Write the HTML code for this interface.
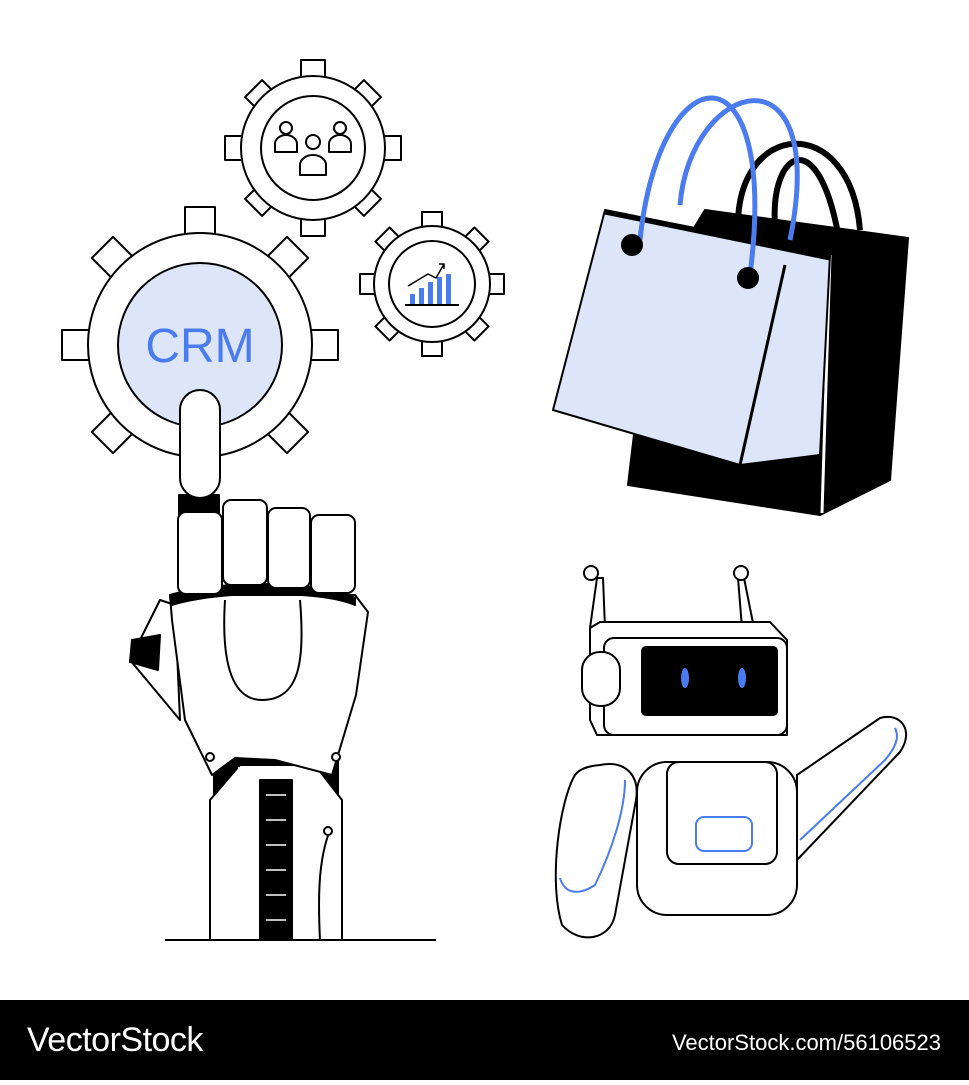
<!DOCTYPE html>
<html><head><style>
body{margin:0;width:969px;height:1080px;background:#fff;overflow:hidden;font-family:"Liberation Sans",sans-serif}
</style></head><body>
<svg width="969" height="1080" viewBox="0 0 969 1080" xmlns="http://www.w3.org/2000/svg" stroke="#000" stroke-width="2" stroke-linejoin="round">
<defs>
<g id="teeth8"><rect x="-15" y="-1" width="30" height="2"/></g>
</defs>
<!-- big gear -->
<g transform="translate(200,345)" fill="#fff">
<g><rect x="-15" y="-138" width="30" height="50"/><rect x="-15" y="88" width="30" height="50"/><rect x="-138" y="-15" width="50" height="30"/><rect x="88" y="-15" width="50" height="30"/>
<rect x="-15" y="-138" width="30" height="50" transform="rotate(45)"/><rect x="-15" y="-138" width="30" height="50" transform="rotate(-45)"/><rect x="-15" y="-138" width="30" height="50" transform="rotate(135)"/><rect x="-15" y="-138" width="30" height="50" transform="rotate(-135)"/></g>
<circle r="112"/><circle r="82" fill="#dde6f8"/>
<text x="0" y="17" text-anchor="middle" font-size="48" fill="#4a7cf0" stroke="none" font-family="Liberation Sans">CRM</text>
</g>
<!-- top gear -->
<g transform="translate(313,148)" fill="#fff">
<rect x="-12" y="-88" width="24" height="30"/><rect x="-12" y="58" width="24" height="30"/><rect x="-88" y="-12" width="30" height="24"/><rect x="58" y="-12" width="30" height="24"/>
<rect x="-12" y="-84" width="24" height="30" transform="rotate(45)"/><rect x="-12" y="-84" width="24" height="30" transform="rotate(-45)"/><rect x="-12" y="-84" width="24" height="30" transform="rotate(135)"/><rect x="-12" y="-84" width="24" height="30" transform="rotate(-135)"/>
<circle r="72"/><circle r="52"/>
<circle cx="-27" cy="-20" r="6"/><path d="M-38,4 v-8 a11,9 0 0 1 22,0 v8z"/>
<circle cx="27" cy="-20" r="6"/><path d="M16,4 v-8 a11,9 0 0 1 22,0 v8z"/>
<circle cx="0" cy="-6" r="7"/><path d="M-13,27 v-10 a13,10 0 0 1 26,0 v10z"/>
</g>
<!-- small gear -->
<g transform="translate(432,284)" fill="#fff">
<rect x="-10" y="-72" width="20" height="24"/><rect x="-10" y="48" width="20" height="24"/><rect x="-72" y="-10" width="24" height="20"/><rect x="48" y="-10" width="24" height="20"/>
<rect x="-10" y="-70" width="20" height="24" transform="rotate(45)"/><rect x="-10" y="-70" width="20" height="24" transform="rotate(-45)"/><rect x="-10" y="-70" width="20" height="24" transform="rotate(135)"/><rect x="-10" y="-70" width="20" height="24" transform="rotate(-135)"/>
<circle r="58"/><circle r="43"/>
<line x1="-27" y1="21" x2="27" y2="21"/>
<g fill="#4a7cf0" stroke="none"><rect x="-22" y="10" width="5" height="10"/><rect x="-13" y="4" width="5" height="16"/><rect x="-4" y="-2" width="5" height="22"/><rect x="5" y="-7" width="5" height="27"/><rect x="14" y="-10" width="5" height="30"/></g>
<path d="M-24,2 L-4,-10 L4,-6 L12,-20 M7,-20 h5 v5" fill="none" stroke-width="1.5"/>
</g>
<!-- bag back -->
<path d="M738,230 C735,120 850,110 860,230 M775,225 C770,150 820,120 840,245" fill="none" stroke-width="6"/>
<path d="M705,210 L908,238 L890,480 L820,515 L628,485 L650,300Z" fill="#000"/>
<path d="M830,255 L822,513" stroke="#fff" stroke-width="3"/>
<!-- bag front -->
<path d="M605,210 L830,255 L820,455 L740,465 L553,410Z" fill="#dde6f8" stroke="#000" stroke-width="2"/>
<path d="M605,212 L830,258" stroke-width="5"/>
<path d="M785,265 L740,465" stroke-width="3"/>
<path d="M640,240 C660,50 780,40 750,275 M680,205 C690,80 830,40 790,240" fill="none" stroke="#4a7cf0" stroke-width="5"/>
<circle cx="632" cy="245" r="10" fill="#000"/><circle cx="748" cy="278" r="10" fill="#000"/>
<!-- hand -->
<g fill="#fff">
<path d="M160,600 L140,640 L130,660 L180,720 L175,605Z"/>
<path d="M132,640 L160,635 L158,670 L130,662Z" fill="#000"/>
<rect x="214" y="748" width="124" height="60" rx="10" fill="#000"/>
<path d="M210,800 L240,765 L315,765 L342,800 L342,940 L210,940Z"/>
<rect x="260" y="780" width="32" height="160" fill="#000"/>
<g stroke="#fff" stroke-width="1.5"><line x1="266" y1="795" x2="286" y2="795"/><line x1="266" y1="820" x2="286" y2="820"/><line x1="266" y1="845" x2="286" y2="845"/><line x1="266" y1="870" x2="286" y2="870"/><line x1="266" y1="895" x2="286" y2="895"/><line x1="266" y1="920" x2="286" y2="920"/><line x1="238" y1="768" x2="316" y2="768"/></g>
<path d="M330,830 C318,860 318,900 320,940" fill="none"/>
<circle cx="328" cy="831" r="4"/>
<rect x="179" y="495" width="40" height="20" fill="#000"/>
<path d="M170,595 L355,595 L368,612 L356,695 L332,775 L275,760 L235,758 L212,775 L185,720 L172,620Z"/>
<path d="M170,595 C220,580 320,580 355,598 L355,605 C320,590 220,590 172,605Z" fill="#000"/>
<path d="M225,600 C220,680 240,700 262,700 C300,700 305,660 300,600" fill="none"/>
<circle cx="210" cy="757" r="4"/><circle cx="336" cy="757" r="4"/>
<rect x="180" y="390" width="40" height="108" rx="20"/>
<rect x="178" y="512" width="44" height="82" rx="8"/>
<rect x="223" y="500" width="44" height="85" rx="8"/>
<rect x="268" y="508" width="42" height="80" rx="8"/>
<rect x="311" y="515" width="44" height="78" rx="8"/>
</g>
<line x1="165" y1="940" x2="436" y2="940"/>
<!-- robot -->
<g fill="#fff">
<path d="M590,628 L597,578 L603,578 L605,628Z"/><circle cx="591" cy="573" r="7"/>
<path d="M742,628 L738,578 L744,578 L754,628Z"/><circle cx="741" cy="573" r="7"/>
<path d="M590,628 L600,622 L770,622 L787,640 L787,735 L597,735 L590,720Z"/>
<rect x="604" y="638" width="183" height="97" rx="10"/>
<rect x="642" y="647" width="135" height="68" rx="4" fill="#000"/>
<ellipse cx="685" cy="678" rx="4" ry="10" fill="#4a7cf0" stroke="none"/><ellipse cx="742" cy="678" rx="4" ry="10" fill="#4a7cf0" stroke="none"/>
<rect x="582" y="652" width="38" height="54" rx="18"/>
<path d="M797,775 L880,718 C900,712 915,730 900,752 L797,860Z"/>
<path d="M800,840 L885,760 C895,748 900,738 895,728" fill="none" stroke="#4a7cf0"/>
<rect x="637" y="762" width="160" height="153" rx="30"/>
<rect x="667" y="762" width="110" height="102" rx="12"/>
<rect x="696" y="817" width="56" height="34" rx="8" stroke="#4a7cf0"/>
<path d="M600,765 C625,760 640,775 636,800 L615,915 C610,940 580,945 562,925 C548,880 560,800 575,775 C580,768 590,766 600,765Z"/>
<path d="M560,878 C565,895 580,895 595,885 C612,850 625,810 625,780" fill="none" stroke="#4a7cf0"/>
</g>
<!-- footer -->
<rect x="0" y="1000" width="969" height="80" fill="#000" stroke="none"/>
<text x="27" y="1051" font-size="34" fill="#fff" stroke="none" font-family="Liberation Sans" letter-spacing="-0.5">VectorStock</text>
<text x="941" y="1050" text-anchor="end" font-size="22" fill="#fff" stroke="none" font-family="Liberation Sans">VectorStock.com/56106523</text>
</svg>
</body></html>
